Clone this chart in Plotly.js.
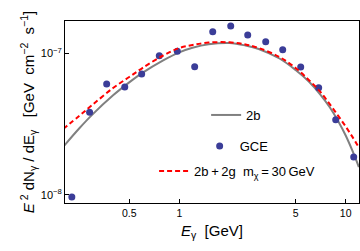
<!DOCTYPE html>
<html>
<head>
<meta charset="utf-8">
<script src="https://cdn.plot.ly/plotly-3.0.1.min.js"></script>
<style>html,body{margin:0;padding:0;background:#fff;}#chart{width:360px;height:251px;}</style>
</head>
<body>
<div id="chart"></div>
<script>
// GCE data points (E in GeV, E^2 dN/dE in GeV cm^-2 s^-1)
var gceE = [0.226, 0.289, 0.366, 0.470, 0.594, 0.758, 0.973, 1.237, 1.588, 2.037, 2.577, 3.305, 4.182, 5.365, 6.88, 8.71, 11.17];
var gceFlux = [9.68e-9, 3.84e-8, 6.07e-8, 5.78e-8, 7.15e-8, 9.62e-8, 1.033e-7, 8.04e-8, 1.42e-7, 1.56e-7, 1.346e-7, 1.207e-7, 1.06e-7, 8.0e-8, 5.71e-8, 3.40e-8, 1.854e-8];

// model curves sampled at these energies
var curveE = [0.2, 0.25, 0.3, 0.4, 0.5, 0.6, 0.8, 1, 1.2, 1.5, 2, 2.5, 3, 4, 5, 6, 7, 8, 9, 10, 11, 12];
var flux2b = [2.18e-8, 2.945e-8, 3.69e-8, 5.05e-8, 6.23e-8, 7.27e-8, 8.91e-8, 1.015e-7, 1.093e-7, 1.157e-7, 1.182e-7, 1.135e-7, 1.072e-7, 9.19e-8, 7.62e-8, 6.32e-8, 5.16e-8, 4.18e-8, 3.33e-8, 2.63e-8, 2.04e-8, 1.575e-8];
var flux2b2g = [2.92e-8, 3.61e-8, 4.32e-8, 5.69e-8, 6.80e-8, 7.87e-8, 9.65e-8, 1.090e-7, 1.144e-7, 1.19e-7, 1.196e-7, 1.154e-7, 1.090e-7, 9.42e-8, 7.87e-8, 6.48e-8, 5.38e-8, 4.39e-8, 3.63e-8, 3.04e-8, 2.56e-8, 2.164e-8];

var xTickVals = [0.5, 1, 5, 10];
var xTickText = ['0.5', '1', '5', '10'];
var yTickVals = [1e-8, 1e-7];
var yTickText = ['10<sup>\u22128</sup>', '10<sup>\u22127</sup>'];

var traces = [
  {x: curveE, y: flux2b, mode: 'lines', name: '2b', legend: 'legend',
   line: {color: '#808080', width: 2, shape: 'spline', smoothing: 1}},
  {x: gceE, y: gceFlux, mode: 'markers', name: 'GCE', legend: 'legend2',
   marker: {color: '#3b3d98', size: 7}},
  {x: curveE, y: flux2b2g, mode: 'lines', name: '2b\u2009+\u20092g  m<sub>\u03c7</sub>\u2009=\u200930\u2009GeV', legend: 'legend3',
   line: {color: '#ff0000', width: 2, dash: '5px,3px', shape: 'spline', smoothing: 1}}
];

var fnt = {family: 'Liberation Sans, Arial, sans-serif', color: '#000'};
function lg(x, y) {
  return {x: x, y: y, xanchor: 'left', yanchor: 'middle', bgcolor: 'rgba(0,0,0,0)',
          font: Object.assign({size: 13}, fnt), borderwidth: 0, itemwidth: 30};
}

var layout = {
  width: 360, height: 251,
  margin: {l: 65, r: 1, t: 21, b: 48},
  paper_bgcolor: '#fff', plot_bgcolor: '#fff',
  font: fnt,
  showlegend: true,
  legend: lg(0.48, 0.4835),
  legend2: lg(0.458, 0.313),
  legend3: lg(0.303, 0.176),
  xaxis: {
    type: 'log', range: [Math.log10(0.2056), Math.log10(12.02)],
    tickvals: xTickVals, ticktext: xTickText,
    ticks: 'inside', ticklen: 4, tickcolor: '#000',
    showline: true, linecolor: '#000', linewidth: 1, mirror: true,
    showgrid: false, zeroline: false,
    tickfont: Object.assign({size: 10.5}, fnt),
    title: {text: '<i>E</i><sub>\u03b3</sub>  [GeV]', font: Object.assign({size: 15}, fnt), standoff: 7}
  },
  yaxis: {
    type: 'log', range: [-8.0565, -6.772],
    tickvals: yTickVals, ticktext: yTickText,
    ticks: 'inside', ticklen: 4, tickcolor: '#000',
    showline: true, linecolor: '#000', linewidth: 1, mirror: true,
    showgrid: false, zeroline: false,
    tickfont: Object.assign({size: 11}, fnt),
    title: {text: '<i>E</i><sup> 2</sup> dN<sub>\u03b3</sub> / dE<sub>\u03b3</sub>   [GeV  cm<sup>\u22122</sup>  s<sup>\u22121</sup>]',
            font: Object.assign({size: 15}, fnt), standoff: 2}
  }
};

Plotly.newPlot('chart', traces, layout, {displayModeBar: false, staticPlot: true});
</script>
</body>
</html>
